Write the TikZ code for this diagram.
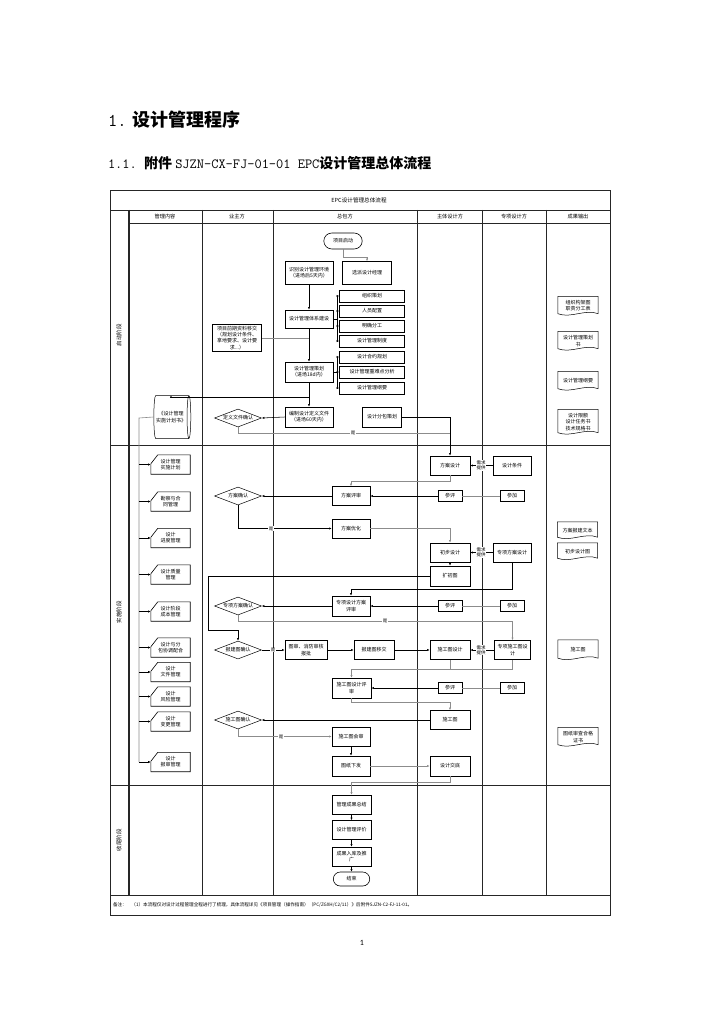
\documentclass[tikz,border=0pt]{standalone}
\usepackage{fontspec}
\setmainfont{Noto Sans CJK SC}
\newfontfamily\pgnum{Carlito}
\usetikzlibrary{arrows.meta,shapes.geometric,shapes.misc,shadows,calc}
\begin{document}
\begin{tikzpicture}[x=1pt,y=-1pt,
  every node/.style={font=\fontsize{5}{6.2}\selectfont, inner sep=0.8pt, align=center},
  tline/.style={line width=0.8pt, black!85},
  box/.style={draw, line width=0.6pt, minimum width=#1, minimum height=19pt, fill=white,
    drop shadow={shadow xshift=0.8pt, shadow yshift=-0.8pt, fill=black!45, opacity=1}},
  box/.default=38pt,
  small/.style={draw, line width=0.6pt, minimum width=24pt, minimum height=11pt, fill=white},
  sub/.style={draw, line width=0.5pt, minimum width=65pt, minimum height=12pt, fill=white,
    append after command={\pgfextra{\draw[line width=0.5pt]
      ([xshift=3pt]\tikzlastnode.north west) -- ([xshift=3pt]\tikzlastnode.south west)
      ([xshift=-3pt]\tikzlastnode.north east) -- ([xshift=-3pt]\tikzlastnode.south east);}}},
  card/.style={minimum width=39pt, minimum height=19pt,
    append after command={\pgfextra{\draw[line width=0.6pt]
      ([yshift=-9pt]\tikzlastnode.north west) -- ([xshift=7pt]\tikzlastnode.north west) --
      (\tikzlastnode.north east) -- (\tikzlastnode.south east) --
      (\tikzlastnode.south west) -- cycle;}}},
  doc/.style={minimum width=40pt, minimum height=#1,
    append after command={\pgfextra{\draw[line width=0.5pt]
      ([yshift=2pt]\tikzlastnode.south west) -- (\tikzlastnode.north west) --
      (\tikzlastnode.north east) -- ([yshift=2pt]\tikzlastnode.south east)
      .. controls ([xshift=-13pt,yshift=7pt]\tikzlastnode.south east) and ([xshift=13pt,yshift=-3pt]\tikzlastnode.south west) ..
      ([yshift=2pt]\tikzlastnode.south west);}}},
  doc/.default=19pt,
  dia/.style={shape=diamond, draw, line width=0.5pt, fill=white, minimum width=47pt, minimum height=18pt, inner sep=0pt, aspect=2.6},
  term/.style={rounded rectangle, draw, line width=0.6pt, fill=white, minimum width=40pt, minimum height=16pt},
  cyl/.style={shape=cylinder, draw, line width=0.5pt, fill=white, minimum width=43pt, minimum height=20pt, aspect=0.3},
  arr/.style={-{Latex[length=2.6pt,width=2.2pt]}},
  cl/.style={line width=0.55pt, black},
  gl/.style={line width=0.6pt, black!45},
  lbl/.style={fill=white, inner sep=0.4pt, font=\fontsize{4.5}{5.2}\selectfont},
  lane/.style={rotate=90, font=\fontsize{5.5}{6.5}\selectfont},
  hdr/.style={font=\fontsize{5.2}{6}\selectfont}
]
\useasboundingbox (0,0) rectangle (724,1024);
\fill[white] (0,0) rectangle (724,1024);

% headings
\node[anchor=west] (t1) at (107,120) {\fontsize{18}{21}\selectfont\ttfamily 1.\hspace{0.35em}\rmfamily\bfseries 设计管理程序};
\node[anchor=west] (t2) at (107,163) {\fontsize{14}{17}\selectfont\ttfamily 1.1.\ \rmfamily\bfseries 附件\ \mdseries\ttfamily SJZN-CX-FJ-01-01 EPC\rmfamily\bfseries 设计管理总体流程};
\node (pg) at (362,943) {\fontsize{8}{9}\selectfont\pgnum 1};

% table
\draw[tline] (110,190) rectangle (610,915);
\draw[tline] (110,210) -- (610,210);
\draw[tline] (128,223) -- (610,223);
\draw[tline] (110,445) -- (610,445);
\draw[tline] (110,785) -- (610,785);
\draw[tline] (110,895) -- (610,895);
\draw[line width=1.4pt, black!85] (129,210) -- (129,895);
\foreach \x in {202,273,417,482,546} \draw[tline] (\x,210) -- (\x,895);

\node[font=\fontsize{5.6}{6.5}\selectfont] (ttl) at (359,200) {EPC设计管理总体流程};
\node[hdr] (h1) at (165,216.5) {管理内容};
\node[hdr] (h2) at (237,216.5) {业主方};
\node[hdr] (h3) at (345,216.5) {总包方};
\node[hdr] (h4) at (450,216.5) {主体设计方};
\node[hdr] (h5) at (514,216.5) {专项设计方};
\node[hdr] (h6) at (578,216.5) {成果输出};

\node[lane] (L1) at (119,335) {启动阶段};
\node[lane] (L2) at (119,612) {实施阶段};
\node[lane] (L3) at (119,840) {收尾阶段};

\node[anchor=west, font=\fontsize{4.6}{5.5}\selectfont] (note) at (112,905) {备注：\quad（1）本流程仅对设计过程管理全程进行了梳理，具体流程详见《项目管理（操作指南）（PC/ZGXH/C2/11）》后附件SJZN-C2-FJ-11-01。};

% ---- start lane
\node[term] (start) at (343,241) {项目启动};
\node[box=49pt, minimum height=23pt] (xp) at (367,273) {选派设计经理};
\node[box=48pt, minimum height=23pt] (sb) at (309,273) {识别设计管理环境\\（进场后5天内）};
\node[box=48pt, minimum height=18pt] (tx) at (309,319) {设计管理体系建设};
\node[sub] (s1) at (372,296) {组织策划};
\node[sub] (s2) at (372,311) {人员配置};
\node[sub] (s3) at (372,326) {明确分工};
\node[sub] (s4) at (372,341) {设计管理制度};
\node[box=48pt, minimum height=20pt] (ch) at (309,372) {设计管理策划\\（进场18d内）};
\node[sub] (s5) at (372,357) {设计合约规划};
\node[sub] (s6) at (372,372) {设计管理重难点分析};
\node[sub] (s7) at (372,388) {设计管理纲要};
\node[box=49pt, minimum height=27pt] (qq) at (237,338) {项目前期资料移交\\（规划设计条件、\\拿地要求、设计要\\求...）};
\node[box=48pt, minimum height=20pt] (bz) at (309,417) {编制设计定义文件\\（进场60天内）};
\node[box=39pt, minimum height=20pt] (fb) at (382,417) {设计分包策划};
\node[dia] (dy) at (238,418) {定义文件确认};
\node[cyl] (cyl) at (171,417) {《设计管理\\实施计划书》};

\node[doc] (o1) at (578,306) {组织构架图\\职责分工表};
\node[doc] (o2) at (578,341) {设计管理策划\\书};
\node[doc] (o3) at (578,381) {设计管理纲要};
\node[doc=25pt] (o4) at (578,422) {设计限额\\设计任务书\\技术规格书};

% ---- implementation lane
\node[card] (c1) at (170.5,464.5) {设计管理\\实施计划};
\node[card] (c2) at (170.5,501.5) {勘察与合\\同管理};
\node[card] (c3) at (170.5,538) {设计\\进度管理};
\node[card] (c4) at (170.5,574.5) {设计质量\\管理};
\node[card] (c5) at (170.5,611.5) {设计阶段\\成本管理};
\node[card] (c6) at (170.5,647.5) {设计与分\\包协调配合};
\node[card] (c7) at (170.5,672) {设计\\文件管理};
\node[card] (c8) at (170.5,696.5) {设计\\风险管理};
\node[card] (c9) at (170.5,721.5) {设计\\变更管理};
\node[card] (c10) at (170.5,762) {设计\\报审管理};

\node[box=40pt] (fa) at (450,465.5) {方案设计};
\node[box=38pt] (tj) at (512,465.5) {设计条件};
\node[box=38pt] (fp) at (351,496) {方案评审};
\node[small] (pp1) at (450,496) {参评};
\node[small] (pj1) at (512,496) {参加};
\node[dia] (fq) at (238,496) {方案确认};
\node[box=38pt] (fy) at (351,528.5) {方案优化};
\node[box=40pt] (cb) at (450,552.5) {初步设计};
\node[box=38pt] (zf) at (512,552.5) {专项方案设计};
\node[box=40pt, minimum height=20pt] (kc) at (450,576) {扩初图};
\node[box=38pt, minimum height=20pt] (zp) at (351,606) {专项设计方案\\评审};
\node[small] (pp2) at (450,606) {参评};
\node[small] (pj2) at (512,606) {参加};
\node[dia] (zq) at (238,606) {专项方案确认};
\node[dia] (bq) at (238,650) {报建图确认};
\node[box=42pt] (sf) at (306,650) {图审、消防审核\\报批};
\node[box=40pt] (yj) at (374,650) {报建图移交};
\node[box=40pt] (sg) at (450,650) {施工图设计};
\node[box=36pt] (zs) at (512.5,650) {专项施工图设\\计};
\node[box=39pt, minimum height=20pt] (sp) at (351.5,688) {施工图设计评\\审};
\node[small] (pp3) at (450,688) {参评};
\node[small] (pj3) at (512,688) {参加};
\node[box=40pt] (sgt) at (450,720) {施工图};
\node[dia] (sq) at (238,720) {施工图确认};
\node[box=38pt] (hs) at (351,736.5) {施工图会审};
\node[box=38pt, minimum height=20pt] (xf) at (351,766) {图纸下发};
\node[box=40pt, minimum height=20pt] (jd) at (450,766) {设计交底};

\node[doc=17pt] (o5) at (577.5,530.5) {方案报建文本};
\node[doc=17pt] (o6) at (577.5,551.5) {初步设计图};
\node[doc=20pt] (o7) at (578,650) {施工图};
\node[doc=19pt] (o8) at (578,737) {图纸审查合格\\证书};

% ---- closing lane
\node[box=39pt] (gz) at (351.5,804.5) {管理成果总结};
\node[box=39pt] (pj) at (351.5,830) {设计管理评价};
\node[box=39pt] (rk) at (351.5,856.5) {成果入库及推\\广};
\node[term, minimum width=38pt, minimum height=14pt] (fin) at (351.5,879) {结束};

% ---- connectors, start lane
\draw[gl,arr] (start.south) -- ++(0,8) -| (xp.north);
\draw[cl,arr] (sb.south) -- (tx.north);
\foreach \s in {s1,s2,s3,s4} \draw[cl,arr] (tx.east) -- ++(4,0) |- (\s.west);
\draw[gl] (qq.east) -- (qq.east -| tx.south);
\draw[cl,arr] (tx.south) -- (ch.north);
\foreach \s in {s5,s6,s7} \draw[cl,arr] (ch.east) -- ++(4,0) |- (\s.west);
\draw[cl,arr] (ch.south) -- (bz.north);
\coordinate (br1) at (309,397);
\draw[cl,arr] (br1) -| (cyl.north);
\draw[cl,arr] (bz.west) -- (dy.east);
\draw[cl,arr] (fb.east) -| (fa.north);
\coordinate (j1) at (450,433);
\draw[gl] (dy.south) |- (j1);
\coordinate (bus1) at (139,418);
\coordinate (bus2) at (139,762);
\draw[gl] (cyl.west) -- (bus1) -- (bus2);
\foreach \c in {c1,c2,c3,c4,c5,c6,c7,c8,c9,c10} \draw[cl,arr] (bus1 |- \c.west) -- (\c.west);

% ---- connectors, implementation lane
\draw[cl,arr] (tj.west) -- (fa.east);
\draw[gl,arr] (fa.south) -- ++(0,6) -| (fp.north);
\draw[gl] (pj1.west) -- (pp1.east);
\draw[cl,arr] (pp1.west) -- (fp.east);
\draw[cl,arr] (fp.west) -- (fq.east);
\draw[cl,arr] (fq.south) |- (fy.west);
\draw[gl,arr] (fy.east) -| (cb.north);
\draw[cl,arr] (zf.west) -- (cb.east);
\draw[cl,arr] (cb.south) -- (kc.north);
\coordinate (k1) at (208,576);
\coordinate (k2) at (208,630);
\draw[cl,arr] (kc.west) -- (k1) -- (k2) -| (bq.north);
\draw[cl,arr] (zf.south) -- ++(0,27) -| (zp.north);
\draw[gl] (pj2.west) -- (pp2.east);
\draw[cl,arr] (pp2.west) -- (zp.east);
\draw[cl,arr] (zp.west) -- (zq.east);
\draw[gl,arr] (zq.south) -- ++(0,6) -| (zs.north);
\draw[cl,arr] (bq.east) -- (sf.west);
\draw[cl,arr] (sf.east) -- (yj.west);
\draw[cl,arr] (yj.east) -- (sg.west);
\draw[cl,arr] (zs.west) -- (sg.east);
\coordinate (j3) at (351.5,669);
\draw[gl,arr] (zs.south) |- (j3) -- (sp.north);
\draw[gl] (sg.south) -- (sg.south |- j3);
\draw[gl] (pj3.west) -- (pp3.east);
\draw[cl,arr] (pp3.west) -- (sp.east);
\draw[gl,arr] (sp.south) -- ++(0,4) -| (sgt.north);
\draw[cl,arr] (sgt.west) -- (sq.east);
\draw[gl,arr] (sq.south) |- (hs.west);
\draw[cl,arr] (hs.south) -- (xf.north);
\draw[gl,arr] (xf.east) -- (jd.west);
\draw[gl,arr] (jd.south) -- ++(0,5.5) -| (gz.north);
\draw[cl,arr] (gz.south) -- (pj.north);
\draw[cl,arr] (pj.south) -- (rk.north);
\draw[cl,arr] (rk.south) -- (fin.north);

% ---- labels
\node[lbl] (y1) at (353,433) {是};
\node[lbl] (y2) at (271,528.5) {是};
\node[lbl] (y3) at (385,621) {是};
\node[lbl] (y4) at (273,650) {是};
\node[lbl] (y5) at (281,736.5) {是};
\node[lbl] (q1) at (481,465.5) {需求\\提供};
\node[lbl] (q2) at (481,552.5) {需求\\提供};
\node[lbl] (q3) at (481,650) {需求\\提供};
\end{tikzpicture}
\end{document}
